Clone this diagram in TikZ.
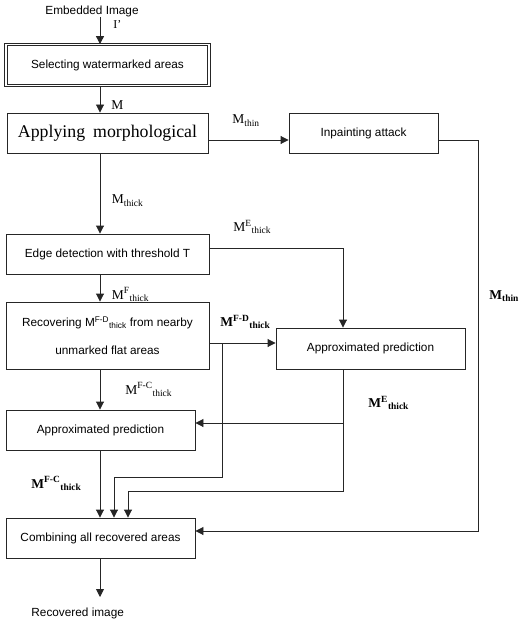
\documentclass[tikz,border=0pt]{standalone}
\usepackage{fontspec}
\setmainfont{Liberation Serif}
\setsansfont{Liberation Sans}
\usetikzlibrary{arrows.meta}
\usetikzlibrary{calc}

\tikzset{
  stage/.style={draw=black!85, line width=0.9pt, inner sep=0pt, align=center,
    font=\sffamily\fontsize{11.8}{14}\selectfont},
  plain/.style={inner sep=0pt, font=\sffamily\fontsize{11.8}{14}\selectfont},
  tag/.style={inner sep=0pt, anchor=base west, font=\fontsize{13.5}{16}\selectfont},
  boldtag/.style={tag, font=\bfseries\fontsize{13.5}{16}\selectfont},
}

\begin{document}
\begin{tikzpicture}[x=1pt,y=-1pt,line width=0.9pt,draw=black!85,>={Triangle[length=8pt,width=8pt]}]
\useasboundingbox (0,0) rectangle (523,620);

    % Guide lines the connectors follow:
    \coordinate (trunk)   at (100,0);
    \coordinate (thinrow) at (0,140);
    \coordinate (thinturn) at (478,140);
    \coordinate (backrow) at (0,531);
    \coordinate (erow)    at (0,248);
    \coordinate (ecol)    at (343,0);
    \coordinate (fdrow)   at (0,343);
    \coordinate (fdsplit) at (222,343);
    \coordinate (fdbend)  at (222,477);
    \coordinate (fdcol)   at (114,0);
    \coordinate (ecrow)   at (0,423);
    \coordinate (ebend)   at (0,491);
    \coordinate (ecol2)   at (128,0);
    \coordinate (outend)  at (100,597);

    % Boxes:
    \node [plain, anchor=base west] (src) at (45,14.5) {Embedded Image};
    \node [stage, double, double distance=1.8pt, line width=0.8pt, minimum width=203pt, minimum height=41pt] (sel) at (107.5,65) {Selecting watermarked areas};
    \node [stage, minimum width=201pt, minimum height=40pt, font=\fontsize{17.8}{20}\selectfont] (morph) at (107.5,133) {Applying\hspace{0.45em}morphological};
    \node [stage, minimum width=149pt, minimum height=40pt] (inp) at (363.5,133) {Inpainting attack};
    \node [stage, minimum width=203pt, minimum height=40pt] (edge) at (107.5,254) {Edge detection with threshold T};
    \node [stage, minimum width=203pt, minimum height=67pt, font=\sffamily\fontsize{11.8}{28}\selectfont] (rec) at (107.5,335.5) {Recovering M\textsuperscript{F-D}\textsubscript{thick} from nearby\\unmarked flat areas};
    \node [stage, minimum width=189pt, minimum height=41pt] (apr) at (370.5,348.5) {Approximated prediction};
    \node [stage, minimum width=189pt, minimum height=40pt] (apl) at (100.5,430) {Approximated prediction};
    \node [stage, minimum width=189pt, minimum height=40pt] (comb) at (100.5,538) {Combining all recovered areas};
    \node [plain, anchor=base west] (dst) at (31,616.5) {Recovered image};

    % Labels:
    \node [tag, font=\fontsize{12}{14}\selectfont] (iprime) at (113,28.5) {I’};
    \node [tag] (mlab)    at (111,110) {M};
    \node [tag] (thinlab) at (232,124) {M\textsubscript{thin}};
    \node [tag] (thklab)  at (111.5,204) {M\textsubscript{thick}};
    \node [tag] (elab)    at (233,231.7) {M\textsuperscript{E}\textsubscript{thick}};
    \node [tag] (flab)    at (111.5,299) {M\textsuperscript{F}\textsubscript{thick}};
    \node [boldtag] (fdlab) at (220,326.7) {M\textsuperscript{F-D}\textsubscript{thick}};
    \node [tag] (fclab)   at (125,394) {M\textsuperscript{F-C}\textsubscript{thick}};
    \node [boldtag] (elab2) at (368,407.7) {M\textsuperscript{E}\textsubscript{thick}};
    \node [boldtag] (thinlab2) at (489,299) {M\textsubscript{thin}};
    \node [boldtag] (fclab2) at (31,488) {M\textsuperscript{F-C}\textsubscript{thick}};

    % Main column:
    \draw [->] (src.south -| trunk) -- (sel.north -| trunk);
    \draw [->] (sel.south -| trunk) -- (morph.north -| trunk);
    \draw [->] (morph.south -| trunk) -- (edge.north -| trunk);
    \draw [->] (edge.south -| trunk) -- (rec.north -| trunk);
    \draw [->] (rec.south -| trunk) -- (apl.north -| trunk);
    \draw [->] (apl.south -| trunk) -- (comb.north -| trunk);
    \draw [->] (comb.south -| trunk) -- (outend);

    % Thin part goes round by the inpainting attack:
    \draw [->] (morph.east |- thinrow) -- (inp.west |- thinrow);
    \draw [->] (inp.east |- thinrow) -- (thinturn) |- (comb.east |- backrow);

    % Edge and flat parts:
    \draw [->] (edge.east |- erow) -| (apr.north -| ecol);
    \draw [->] (rec.east |- fdrow) -- (apr.west |- fdrow);
    \draw [->] (fdsplit) -- (fdbend) -| (comb.north -| fdcol);
    \draw [->] (apr.south -| ecol) |- (apl.east |- ecrow);
    \draw [->] (apr.south -| ecol) -- (ecol |- ebend) -| (comb.north -| ecol2);
\end{tikzpicture}
\end{document}
